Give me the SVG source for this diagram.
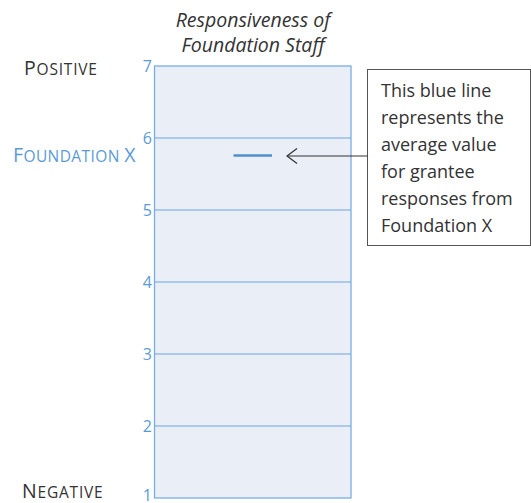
<svg xmlns="http://www.w3.org/2000/svg" width="531" height="503" viewBox="0 0 531 503">
<style>
text{font-family:"Open Sans","Liberation Sans",sans-serif}
.num{font-size:16px;fill:#5b9bd5;text-anchor:end}
.grid{stroke:#6fa3da;stroke-width:1.2;fill:none}
.title{font-size:19.5px;font-style:italic;fill:#333;text-anchor:middle}
.call{font-size:18px;fill:#333}
.lbl{fill:#333;letter-spacing:0.8px}
</style>
<defs>
<marker id="ah" viewBox="0 0 12 18" refX="11" refY="9" markerWidth="12" markerHeight="18" markerUnits="userSpaceOnUse" orient="auto">
<path d="M1,1.5 L11,9 L1,16.5" fill="none" stroke="#333" stroke-width="1.2"/>
</marker>
</defs>
<g id="title">
<text class="title" x="253" y="27">Responsiveness of</text>
<text class="title" x="253" y="52">Foundation Staff</text>
</g>
<g id="chart">
<rect x="154.5" y="66" width="196.5" height="432" fill="#e9eef7" stroke="#7aaee2" stroke-width="1.3"/>
<line class="grid" x1="154.5" y1="138" x2="351" y2="138"/>
<line class="grid" x1="154.5" y1="210" x2="351" y2="210"/>
<line class="grid" x1="154.5" y1="282" x2="351" y2="282"/>
<line class="grid" x1="154.5" y1="354" x2="351" y2="354"/>
<line class="grid" x1="154.5" y1="426" x2="351" y2="426"/>
<text class="num" x="152" y="72">7</text>
<text class="num" x="152" y="144">6</text>
<text class="num" x="152" y="216">5</text>
<text class="num" x="152" y="288">4</text>
<text class="num" x="152" y="360">3</text>
<text class="num" x="152" y="432">2</text>
<text class="num" x="152" y="501">1</text>
</g>
<g id="value-line">
<line x1="233.5" y1="155.5" x2="272" y2="155.5" stroke="#4f8fcf" stroke-width="2.4"/>
</g>
<g id="labels">
<text class="lbl" x="24" y="74.5"><tspan font-size="19.5">P</tspan><tspan font-size="15.5">OSITIVE</tspan></text>
<text class="lbl" x="13" y="161.5" style="fill:#5b9bd5;letter-spacing:0.4px"><tspan font-size="19.5">F</tspan><tspan font-size="15.5">OUNDATION </tspan><tspan font-size="19.5">X</tspan></text>
<text class="lbl" x="22" y="498"><tspan font-size="19.5">N</tspan><tspan font-size="15.5">EGATIVE</tspan></text>
</g>
<g id="callout">
<rect x="367.5" y="69.5" width="163" height="176" fill="#fff" stroke="#555" stroke-width="1"/>
<text class="call" x="381" y="97">This blue line</text>
<text class="call" x="381" y="124">represents the</text>
<text class="call" x="381" y="151">average value</text>
<text class="call" x="381" y="178">for grantee</text>
<text class="call" x="381" y="205">responses from</text>
<text class="call" x="381" y="232">Foundation X</text>
</g>
<g id="connectors">
<line x1="367.5" y1="156" x2="287" y2="156" stroke="#333" stroke-width="1" marker-end="url(#ah)"/>
</g>
</svg>
